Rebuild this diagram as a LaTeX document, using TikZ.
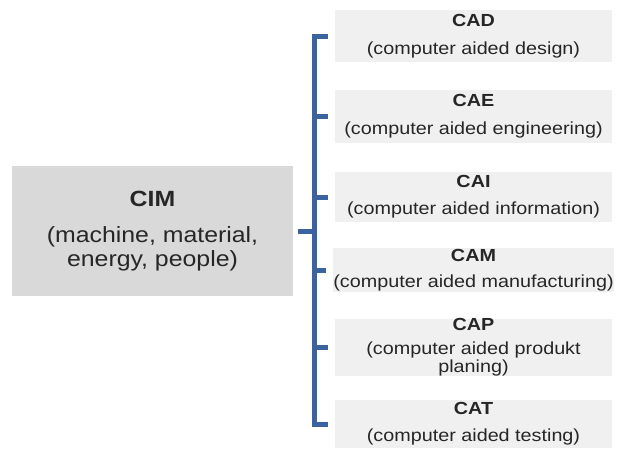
\documentclass[tikz,border=0pt]{standalone}
\usepackage{fontspec}
\setmainfont{Liberation Sans}[FakeStretch=1.13]
\usetikzlibrary{positioning}
\definecolor{bracketblue}{RGB}{58,99,160}
\definecolor{cimgray}{RGB}{217,217,217}
\definecolor{subgray}{RGB}{240,240,240}

\begin{document}
\begin{tikzpicture}[x=1pt, y=-1pt,
    cimbox/.style={fill=cimgray, minimum width=281pt, minimum height=130pt,
      inner sep=0pt, align=center, text=black!85,
      font=\fontsize{22}{24}\selectfont},
    subbox/.style={fill=subgray, minimum width=277pt, inner sep=0pt,
      align=center, text=black!85, font=\fontsize{17.5}{18}\selectfont},
    bracket/.style={draw=bracketblue, line width=5pt, line join=miter},
  ]
    \useasboundingbox (0,0) rectangle (621,448);
    \node [cimbox] (cim) at (152.5,231) {\bfseries CIM\\[12pt](machine, material,\\energy, people)};
    \node [subbox, minimum height=52pt] (cad) at (473.5,36) {\bfseries CAD\\[10pt](computer aided design)};
    \node [subbox, minimum height=53pt] (cae) at (473.5,116.5) {\bfseries CAE\\[10pt](computer aided engineering)};
    \node [subbox, minimum height=50pt] (cai) at (473.5,197) {\bfseries CAI\\[9pt](computer aided information)};
    \node [subbox, minimum height=44pt] (cam) at (473.5,270) {\bfseries CAM\\[8pt](computer aided manufacturing)};
    \node [subbox, minimum height=51pt] (cap) at (473.5,347.5) {\bfseries CAP\\[6pt](computer aided produkt\\planing)};
    \node [subbox, minimum height=48pt] (cat) at (473.5,424) {\bfseries CAT\\[9pt](computer aided testing)};
    \coordinate (spine) at (314,231);
    \draw [bracket] ([xshift=-7]cad.west) -| (spine |- cat.west) -- ([xshift=-7]cat.west);
    \foreach \b in {cae,cai,cam,cap}
      \draw [bracket] (spine |- \b.west) -- ([xshift=-7]\b.west);
    \draw [bracket] ([xshift=5]cim.east) -- (spine);
  \end{tikzpicture}
\end{document}
